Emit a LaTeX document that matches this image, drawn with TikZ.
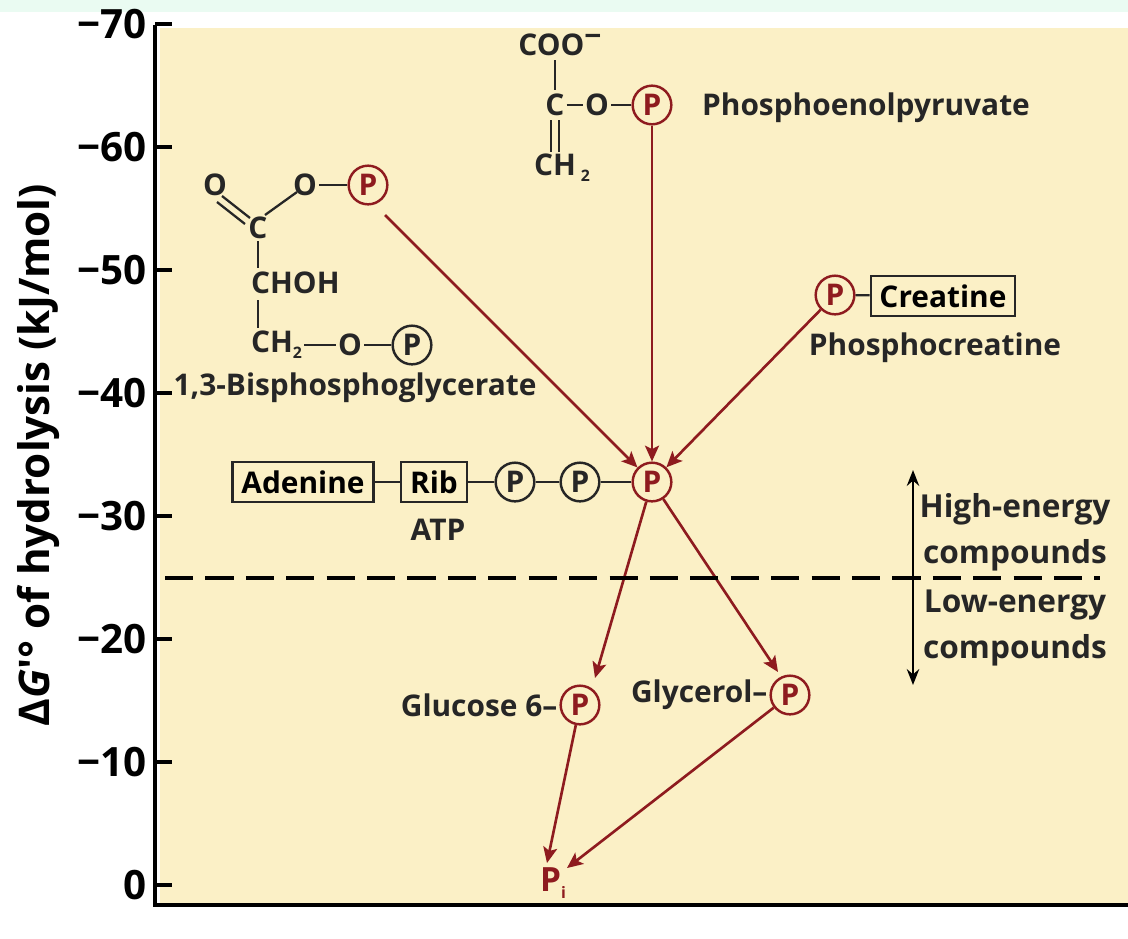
\documentclass[tikz,border=0pt]{standalone}
\usepackage{fontspec}
\setmainfont{Open Sans}
\usetikzlibrary{arrows.meta}
\definecolor{bgy}{HTML}{FBF0C6}
\definecolor{mint}{HTML}{EAFBF2}
\definecolor{dred}{HTML}{8E1B1F}
\begin{document}
\begin{tikzpicture}[x=0.02cm,y=-0.02cm,
  lab/.style={font=\fontsize{17}{19}\selectfont\bfseries, text=black!85, inner sep=1pt},
  tick/.style={font=\fontsize{23}{24}\selectfont\bfseries, anchor=east, inner sep=0pt},
  pc/.style={circle, draw=black!85, line width=1.4pt, minimum size=22pt, inner sep=0pt, font=\fontsize{17}{19}\selectfont\bfseries, text=black!85},
  pr/.style={pc, draw=dred, text=dred},
  bx/.style={draw=black!85, line width=1.3pt, font=\fontsize{17}{19}\selectfont\bfseries, inner sep=5pt, minimum height=19pt},
  bond/.style={line width=1.3pt, black!85},
  rarr/.style={dred, line width=1.5pt, -{Stealth[length=9pt,width=8pt,inset=2pt]}}]
\useasboundingbox (0,0) rectangle (1128,938);
\fill[white] (0,0) rectangle (1128,938);
\fill[mint] (0,0) rectangle (1128,12);
\fill[bgy] (160,28) rectangle (1128,905);
% axes
\draw[line width=2.5pt] (155,25) -- (155,905) -- (1128,905);
\foreach \v [count=\i from 0] in {0,10,20,30,40,50,60,70}{
  \draw[line width=2.5pt] (155,{885-123*\i}) -- (172,{885-123*\i});
  \node[tick] at (147,{885-123*\i}) {\ifnum\v=0 0\else−\v\fi};
}
\node[rotate=90, font=\fontsize{24}{26}\selectfont\bfseries] (ylab) at (38,455) {Δ\textit{G}′° of hydrolysis (kJ/mol)};
% PEP
\node[lab] (coo) at (560,45) {COO\raisebox{0.6ex}{−}};
\node[lab] (pc1) at (555,105) {C};
\node[lab] (po1) at (597,105) {O};
\node[pr] (pp) at (652,105) {P};
\node[lab] (ch2a) at (562,168) {CH\,\raisebox{-0.35ex}{\small 2}};
\node[lab, anchor=west] (pepl) at (700,108) {Phosphoenolpyruvate};
\draw[bond] (555,60) -- (555,90);
\draw[bond] (551,120) -- (551,152) (559,120) -- (559,152);
\draw[bond] (pc1) -- (po1); \draw[bond] (po1) -- (pp);
% BPG
\node[lab] (bo1) at (215,185) {O};
\node[lab] (bo2) at (305,185) {O};
\node[pr] (bp1) at (368,185) {P};
\node[lab] (bc) at (258,228) {C};
\node[lab, anchor=west] (chohl) at (249,283) {CHOH};
\node[lab, anchor=west] (ch2b) at (249,345) {CH\raisebox{-0.35ex}{\small 2}};
\node[lab] (bo3) at (350,345) {O};
\node[pc] (bp2) at (412,345) {P};
\node[lab] (bpgl) at (355,388) {1,3-Bisphosphoglycerate};
\draw[bond] (222,196) -- (250,218) (217,202) -- (245,224);
\draw[bond] (265,215) -- (297,192);
\draw[bond] (bo2) -- (bp1);
\draw[bond] (258,241) -- (258,268) (258,300) -- (258,328);
\draw[bond] (ch2b) -- (bo3); \draw[bond] (bo3) -- (bp2);
% phosphocreatine
\node[pr] (cp) at (835,295) {P};
\node[bx, minimum width=71pt] (cr) at (943,296) {Creatine};
\node[lab] (pcrl) at (935,348) {Phosphocreatine};
\draw[bond] (cp) -- (cr);
% ATP
\node[bx, minimum width=75pt] (ad) at (303,482) {Adenine};
\node[bx, minimum width=35pt] (rib) at (434,482) {Rib};
\node[pc] (ap1) at (515,482) {P};
\node[pc] (ap2) at (580,482) {P};
\node[pr] (ap3) at (652,482) {P};
\node[lab] (atpl) at (438,530) {ATP};
\draw[bond] (ad) -- (rib); \draw[bond] (rib) -- (ap1); \draw[bond] (ap1) -- (ap2); \draw[bond] (ap2) -- (ap3);
% low
\node[pr] (gp) at (580,705) {P};
\node[lab, anchor=east] (gl) at (gp.west) {Glucose 6–};
\node[pr] (yp) at (790,695) {P};
\node[lab, anchor=east] (yl) at (yp.west) {Glycerol–};
\node[font=\fontsize{19}{21}\selectfont\bfseries, text=dred] (pi) at (553,883) {P\raisebox{-0.4ex}{\small i}};
% arrows
\draw[rarr] (385,215) -- (ap3);
\draw[rarr] (pp) -- (ap3);
\draw[rarr] (cp) -- (ap3);
\draw[rarr] (ap3) -- (595,678);
\draw[rarr] (ap3) -- (778,672);
\draw[rarr] (gp) -- (547,863);
\draw[rarr] (yp) -- (567,868);
% divider
\draw[line width=2.5pt, dash pattern=on 16pt off 7pt] (165,578) -- (1100,578);
\coordinate (ua) at (913,470); \coordinate (la) at (913,685);
\draw[line width=1.5pt, {Stealth[length=9pt,width=7pt]}-{Stealth[length=9pt,width=7pt]}] (ua) -- (la);
\node[lab, align=center, font=\fontsize{18}{26}\selectfont\bfseries] (he) at (1015,532) {High-energy\\compounds};
\node[lab, align=center, font=\fontsize{18}{26}\selectfont\bfseries] (le) at (1015,628) {Low-energy\\compounds};
\end{tikzpicture}
\end{document}
